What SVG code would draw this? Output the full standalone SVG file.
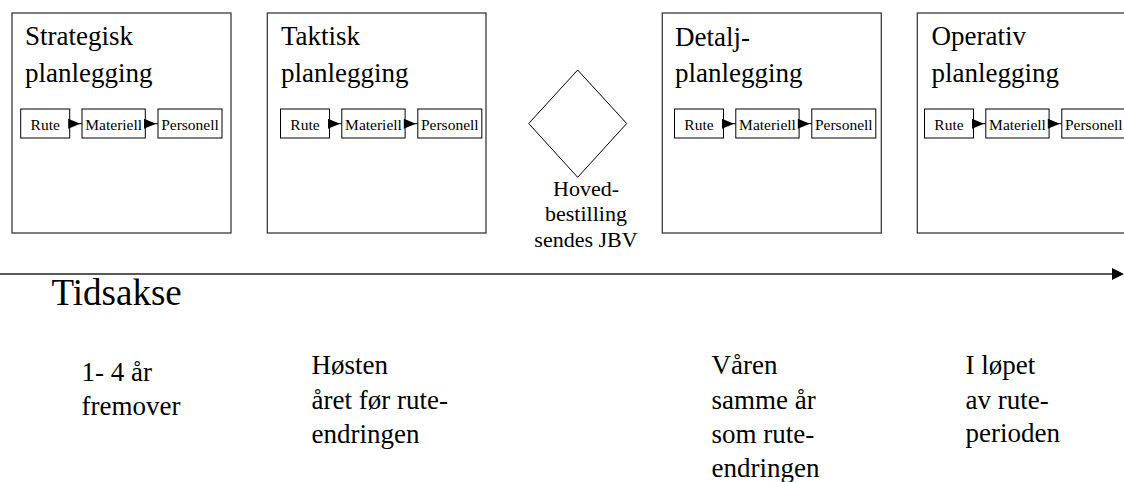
<svg xmlns="http://www.w3.org/2000/svg" width="1124" height="482" viewBox="0 0 1124 482">
  <style>
    .frame { fill: #fff; stroke: #3a3a3a; stroke-width: 1.3; }
    .step { fill: #fff; stroke: #000; stroke-width: 1; }
    .link { stroke: #000; stroke-width: 1; fill: none; }
    .head { fill: #000; }
    text { font-family: "Liberation Serif", "Times New Roman", Times, serif; fill: #000; }
    .title { font-size: 27px; }
    .small { font-size: 15.5px; text-anchor: middle; }
    .note { font-size: 22px; text-anchor: middle; }
    .when { font-size: 27px; }
    .axis { font-size: 37px; }
  </style>
  <defs>
    <!-- Rute -> Materiell -> Personell chain, local origin at left edge of "Rute" -->
    <g id="chain">
      <rect class="step" x="0" y="109" width="49" height="29"/>
      <rect class="step" x="61.3" y="109" width="63.3" height="29"/>
      <rect class="step" x="137.3" y="109" width="64" height="29"/>
      <line class="link" x1="49" y1="123.7" x2="61.3" y2="123.7"/>
      <polygon class="head" points="47.5,118.7 59.5,123.7 47.5,128.7"/>
      <line class="link" x1="124.6" y1="123.7" x2="137.3" y2="123.7"/>
      <polygon class="head" points="123.3,118.7 135.3,123.7 123.3,128.7"/>
      <text class="small" x="24.5" y="129.5">Rute</text>
      <text class="small" x="93" y="129.5">Materiell</text>
      <text class="small" x="169.3" y="129.5">Personell</text>
    </g>
  </defs>

  <rect width="1124" height="482" fill="#fff"/>

  <!-- planning stages -->
  <g id="strategisk">
    <rect class="frame" x="12" y="13" width="219" height="220"/>
    <text class="title" x="25" y="45">Strategisk</text>
    <text class="title" x="25" y="81.5">planlegging</text>
    <use href="#chain" x="20.7" y="0"/>
  </g>

  <g id="taktisk">
    <rect class="frame" x="267.3" y="13" width="218.7" height="220"/>
    <text class="title" x="281" y="45">Taktisk</text>
    <text class="title" x="281" y="81.5">planlegging</text>
    <use href="#chain" x="280.5" y="0"/>
  </g>

  <g id="hovedbestilling">
    <polygon class="step" points="577.7,70 626.7,123.5 577.7,177.3 528.7,123.5"/>
    <text class="note" x="586" y="196">Hoved-</text>
    <text class="note" x="586" y="221">bestilling</text>
    <text class="note" x="586" y="246.5">sendes JBV</text>
  </g>

  <g id="detalj">
    <rect class="frame" x="662.3" y="13" width="219" height="220"/>
    <text class="title" x="675" y="45.5">Detalj-</text>
    <text class="title" x="675" y="81.5">planlegging</text>
    <use href="#chain" x="674.5" y="0"/>
  </g>

  <g id="operativ">
    <rect class="frame" x="917.3" y="13" width="220" height="220"/>
    <text class="title" x="931.5" y="45">Operativ</text>
    <text class="title" x="931.5" y="81.5">planlegging</text>
    <use href="#chain" x="924.5" y="0"/>
  </g>

  <!-- time axis -->
  <g id="connectors">
    <line x1="0" y1="274" x2="1114" y2="274" stroke="#222" stroke-width="1.3"/>
    <polygon class="head" points="1112,268 1124,274 1112,280"/>
  </g>
  <text class="axis" x="51.5" y="305">Tidsakse</text>

  <!-- timing of each stage -->
  <g id="time-labels">
    <text class="when" x="81.5" y="381">1- 4 år</text>
    <text class="when" x="81.5" y="415">fremover</text>

    <text class="when" x="311.5" y="373.5">Høsten</text>
    <text class="when" x="311.5" y="408.5">året før rute-</text>
    <text class="when" x="311.5" y="442.5">endringen</text>

    <text class="when" x="711.5" y="373.5">Våren</text>
    <text class="when" x="711.5" y="408.5">samme år</text>
    <text class="when" x="711.5" y="442.5">som rute-</text>
    <text class="when" x="711.5" y="476.5">endringen</text>

    <text class="when" x="965.5" y="373.5">I løpet</text>
    <text class="when" x="965.5" y="408.5">av rute-</text>
    <text class="when" x="965.5" y="442">perioden</text>
  </g>
</svg>
